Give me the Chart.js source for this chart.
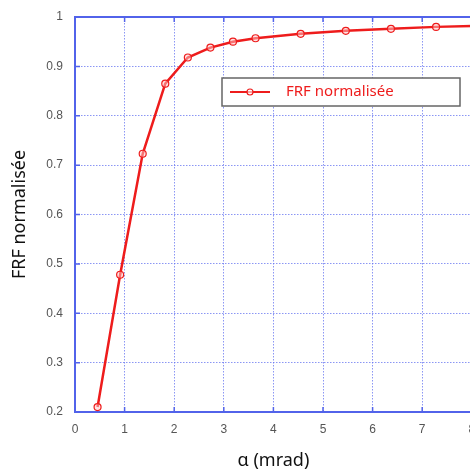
<!DOCTYPE html>
<html>
<head>
<meta charset="utf-8">
<script src="https://cdn.jsdelivr.net/npm/chart.js@4"></script>
<style>
  html, body { margin: 0; padding: 0; background: #fff; overflow: hidden; }
  #wrap { width: 470px; height: 475px; position: relative; overflow: hidden; }
</style>
</head>
<body>
<div id="wrap"><canvas id="frfChart" width="477" height="475"></canvas></div>
<script>
// ========== DATA ==========
const alphaMrad = [0.455, 0.91, 1.365, 1.82, 2.275, 2.73, 3.185, 3.64, 4.55, 5.46, 6.37, 7.28, 8.19];
const frfNorm   = [0.21, 0.478, 0.723, 0.865, 0.918, 0.938, 0.950, 0.957, 0.966, 0.972, 0.976, 0.980, 0.982];
const seriesLabel = 'FRF normalisée';
const xTitle = 'α (mrad)';
const yTitle = 'FRF normalisée';

const BLUE = '#5263ea';
const GRID = 'rgba(100, 115, 240, 0.75)';
const RED = '#ee1c1c';

// frame, inward ticks and legend box inside the plot area
const framePlugin = {
    id: 'frame',
    beforeDatasetsDraw(chart) {
        const a = chart.chartArea, c = chart.ctx;
        const xs = chart.scales.x, ys = chart.scales.y;
        c.save();
        c.strokeStyle = BLUE;
        c.lineWidth = 2;
        c.strokeRect(a.left, a.top, a.right - a.left, a.bottom - a.top);
        c.lineWidth = 1.5;
        c.beginPath();
        xs.ticks.forEach(t => {
            const px = xs.getPixelForValue(t.value);
            c.moveTo(px, a.bottom); c.lineTo(px, a.bottom - 5);
            c.moveTo(px, a.top); c.lineTo(px, a.top + 5);
        });
        ys.ticks.forEach(t => {
            const py = ys.getPixelForValue(t.value);
            c.moveTo(a.left, py); c.lineTo(a.left + 5, py);
        });
        c.stroke();
        c.restore();
    },
    afterDraw(chart) {
        const a = chart.chartArea, c = chart.ctx;
        const x = a.left + 147, y = a.top + 61, w = 238, h = 28;
        c.save();
        c.fillStyle = '#fff';
        c.fillRect(x, y, w, h);
        c.strokeStyle = '#666';
        c.lineWidth = 1.5;
        c.strokeRect(x, y, w, h);
        const my = y + h / 2;
        c.strokeStyle = RED;
        c.lineWidth = 2;
        c.beginPath();
        c.moveTo(x + 8, my);
        c.lineTo(x + 48, my);
        c.stroke();
        c.beginPath();
        c.arc(x + 28, my, 3, 0, Math.PI * 2);
        c.fillStyle = 'rgba(255,255,255,0.6)';
        c.fill();
        c.lineWidth = 1.2;
        c.stroke();
        c.fillStyle = RED;
        c.font = '15px "Noto Sans", sans-serif';
        c.textBaseline = 'middle';
        c.fillText(seriesLabel, x + 64, my);
        c.restore();
    }
};

const ctx = document.getElementById('frfChart').getContext('2d');
const frfChart = new Chart(ctx, {
    type: 'line',
    data: {
        datasets: [{
            label: seriesLabel,
            data: alphaMrad.map((a, i) => ({ x: a, y: frfNorm[i] })),
            borderColor: RED,
            borderWidth: 2.5,
            tension: 0,
            pointRadius: 3.5,
            pointBorderWidth: 1.2,
            pointBorderColor: RED,
            pointBackgroundColor: 'rgba(255,200,200,0.5)'
        }]
    },
    plugins: [framePlugin],
    options: {
        responsive: false,
        animation: false,
        layout: { padding: { top: 17, right: 0, left: 0, bottom: 0 } },
        plugins: { legend: { display: false }, tooltip: { enabled: false } },
        scales: {
            x: {
                type: 'linear',
                min: 0, max: 8,
                afterFit: (s) => { s.height = 63; s.paddingRight = 0; s.paddingLeft = 0; },
                grid: { color: GRID, lineWidth: 1, drawTicks: false },
                border: { display: false, dash: [1.5, 1.5] },
                ticks: { stepSize: 1, padding: 10, color: '#555', font: { family: 'Liberation Sans', size: 12 } },
                title: { display: true, text: xTitle, color: '#111', padding: { top: 0, bottom: 3 },
                         font: { family: 'Noto Sans', size: 18 } }
            },
            y: {
                min: 0.2, max: 1,
                afterFit: (s) => { s.width = 75; s.paddingTop = 0; s.paddingBottom = 0; },
                grid: { color: GRID, lineWidth: 1, drawTicks: false },
                border: { display: false, dash: [1.5, 1.5] },
                ticks: { stepSize: 0.1, padding: 12, color: '#555', font: { family: 'Liberation Sans', size: 12 },
                         callback: (v) => Math.round(v * 10) / 10 },
                title: { display: true, text: yTitle, color: '#111', padding: { top: 9, bottom: 0 },
                         font: { family: 'Noto Sans', size: 18 } }
            }
        }
    }
});
</script>
</body>
</html>
